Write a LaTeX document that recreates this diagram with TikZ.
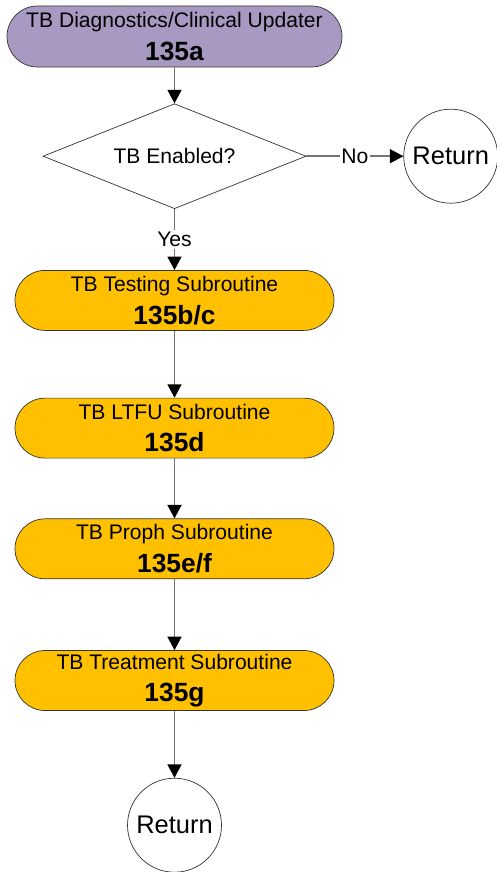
\documentclass[tikz,border=0pt]{standalone}
\usepackage{fontspec}
\setmainfont{Liberation Sans}
\usepackage{xcolor}
\usetikzlibrary{positioning,arrows.meta,shapes.geometric}

\definecolor{updpurple}{RGB}{167,153,193}
\definecolor{suborange}{RGB}{255,192,0}

\begin{document}
\begin{tikzpicture}[
  box/.style={draw=black!80, rounded corners=6mm, align=center, fill=suborange,
              font=\fontsize{12}{17}\selectfont, minimum height=12mm, minimum width=63.8mm, inner sep=0pt},
  start/.style={box, rounded corners=6.1mm, minimum height=12.2mm, minimum width=67mm, fill=updpurple},
  dec/.style={draw=black!80, diamond, aspect=2.5, minimum width=52.6mm, minimum height=21mm,
              inner sep=0pt, font=\fontsize{12}{14}\selectfont},
  term/.style={draw=black!80, circle, minimum size=18.8mm, inner sep=0pt, font=\fontsize{14.5}{16}\selectfont},
  arr/.style={-{Triangle[length=2.7mm, width=2.8mm, color=black]}, draw=black!55, line width=0.9pt},
  lbl/.style={fill=white, inner sep=1pt, font=\fontsize{12}{14}\selectfont}]
\useasboundingbox (0,0) rectangle (9.92,-17.44);
\node[start] (upd) at (3.49,-0.73) {TB Diagnostics/Clinical Updater\\[1.5pt]{\fontsize{15}{17}\selectfont\bfseries 135a}};
\node[dec, below=7.2mm of upd] (enab) {TB Enabled?};
\node[term, right=19.4mm of enab] (retA) {Return};
\node[box, below=12.2mm of enab] (test) {TB Testing Subroutine\\[1.5pt]{\fontsize{15}{17}\selectfont\bfseries 135b/c}};
\node[box, below=13.4mm of test] (ltfu) {TB LTFU Subroutine\\[1.5pt]{\fontsize{15}{17}\selectfont\bfseries 135d}};
\node[box, below=12mm of ltfu] (proph) {TB Proph Subroutine\\[1.5pt]{\fontsize{15}{17}\selectfont\bfseries 135e/f}};
\node[box, below=14.2mm of proph] (treat) {TB Treatment Subroutine\\[1.5pt]{\fontsize{15}{17}\selectfont\bfseries 135g}};
\node[term, below=13.4mm of treat] (retB) {Return};
\draw[arr] (upd) -- (enab);
\draw[arr] (enab) -- node[lbl] {No} (retA);
\draw[arr] (enab) -- node[lbl] {Yes} (test);
\draw[arr] (test) -- (ltfu);
\draw[arr] (ltfu) -- (proph);
\draw[arr] (proph) -- (treat);
\draw[arr] (treat) -- (retB);
\end{tikzpicture}
\end{document}
